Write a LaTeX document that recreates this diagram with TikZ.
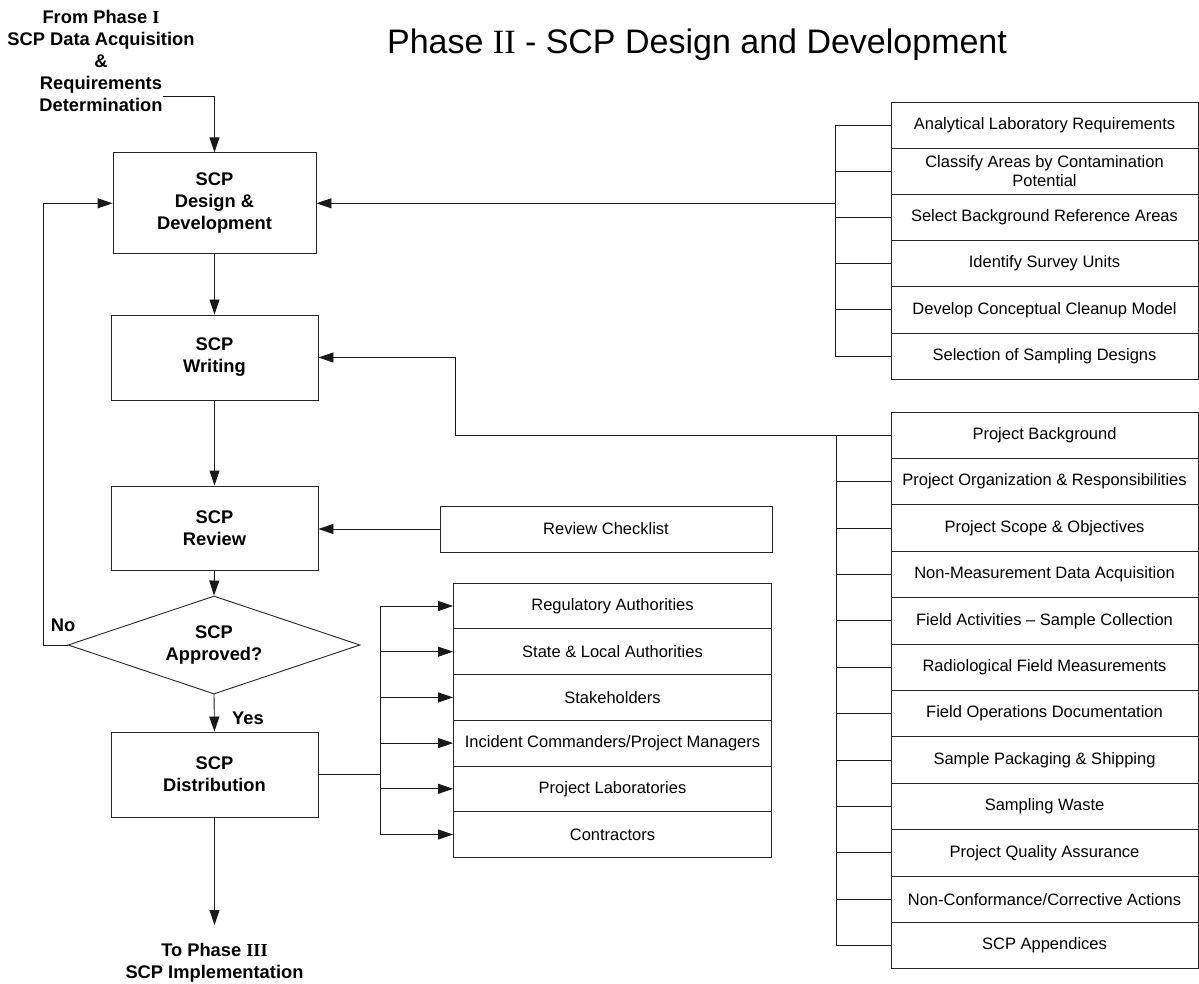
\documentclass[tikz,border=0pt]{standalone}
\usepackage{fontspec}
\setmainfont{Liberation Sans}
\newfontfamily\tnr{Liberation Serif}
\usetikzlibrary{arrows.meta,shapes.geometric}
\tikzset{
  conn/.style={line width=0.9pt, draw=black!90},
  arr/.style={conn, -{Triangle[length=15pt,width=10pt]}},
  mainbox/.style={draw=black!85, line width=0.9pt, inner sep=0pt, align=center,
    font=\bfseries\fontsize{18.3}{22}\selectfont},
  listbox/.style={draw=black!85, line width=0.9pt, inner sep=0pt, align=center,
    font=\fontsize{16.5}{19}\selectfont},
  boldtext/.style={inner sep=0pt, align=center, font=\bfseries\fontsize{18.3}{22}\selectfont},
}
\begin{document}
\begin{tikzpicture}[x=1pt,y=-1pt]
\useasboundingbox (0,0) rectangle (1199,984);
% title
\node[inner sep=0pt, font=\fontsize{34}{40}\selectfont] (title) at (697,45) {Phase {\tnr II} - SCP Design and Development};
% source / sink text
\node[boldtext] (src) at (101,61) {From Phase {\tnr\bfseries I}\\SCP Data Acquisition\\\&\\Requirements\\Determination};
\node[boldtext] (sink) at (214.5,963) {To Phase {\tnr\bfseries III}\\SCP Implementation};
% main boxes
\node[mainbox, minimum width=203pt, minimum height=101pt] (design) at (214.5,203.3) {SCP\\Design \&\\Development};
\node[mainbox, minimum width=207pt, minimum height=85pt] (writing) at (214.5,357.5) {SCP\\Writing};
\node[mainbox, minimum width=207pt, minimum height=84pt] (review) at (214.5,528) {SCP\\Review};
\node[mainbox, shape=diamond, aspect=2.98, minimum width=292pt, minimum height=98pt] (appr) at (214,645) {SCP\\Approved?};
\node[mainbox, minimum width=207pt, minimum height=85pt] (dist) at (214.5,774.5) {SCP\\Distribution};
\node[listbox, minimum width=332pt, minimum height=46pt] (chk) at (606,529) {Review Checklist};
% labels
\node[boldtext] (no) at (63,625) {No};
\node[boldtext] (yes) at (248,718) {Yes};
% top right list
\foreach \t [count=\i] in {Analytical Laboratory Requirements,{Classify Areas by Contamination\\Potential},Select Background Reference Areas,Identify Survey Units,Develop Conceptual Cleanup Model,Selection of Sampling Designs}{
  \node[listbox, minimum width=307pt, minimum height=46.2pt] (a\i) at (1044.5,{125.1+46.2*(\i-1)}) {\t};
}
% second right list
\foreach \t [count=\i] in {Project Background,Project Organization \& Responsibilities,Project Scope \& Objectives,Non-Measurement Data Acquisition,Field Activities -- Sample Collection,Radiological Field Measurements,Field Operations Documentation,Sample Packaging \& Shipping,Sampling Waste,Project Quality Assurance,Non-Conformance/Corrective Actions,SCP Appendices}{
  \node[listbox, minimum width=307pt, minimum height=46.4pt] (b\i) at (1044.5,{435.2+46.4*(\i-1)}) {\t};
}
% distribution list
\foreach \t [count=\i] in {Regulatory Authorities,State \& Local Authorities,Stakeholders,Incident Commanders/Project Managers,Project Laboratories,Contractors}{
  \node[listbox, minimum width=318pt, minimum height=45.7pt] (c\i) at (612.5,{606+45.7*(\i-1)}) {\t};
}
% coordinates
\coordinate (inA) at (163,96);
\coordinate (busA) at (835,203.3);
\coordinate (busB) at (836,435.2);
\coordinate (busC) at (380,774.5);
\coordinate (noL) at (43,645);
\coordinate (outE) at (214.5,925);
% main flow
\draw[arr] (inA) -| (design.north);
\draw[arr] (design.south) -- (writing.north);
\draw[arr] (writing.south) -- (review.north);
\draw[arr] (review.south) -- (appr.north);
\draw[arr] (appr.south) -- (dist.north);
\draw[arr] (dist.south) -- (outE);
\draw[arr] (appr.west) -- (noL) |- (design.west);
\draw[arr] (chk.west) -- (review.east |- chk.west);
% top right bus
\draw[conn] (a1.west) -| (835,0 |- a1.west) -- (835,0 |- a6.west) -- (a6.west);
\foreach \i in {2,3,4,5}{ \draw[conn] (835,0 |- a\i.west) -- (a\i.west); }
\draw[arr] (busA) -- (design.east);
% second bus
\draw[conn] (b1.west) -- (836,0 |- b1.west) -- (836,0 |- b12.west) -- (b12.west);
\foreach \i in {2,...,11}{ \draw[conn] (836,0 |- b\i.west) -- (b\i.west); }
\draw[arr] (busB) -- (455,435.2) -- (455,357.5) -- (writing.east);
% distribution bus
\draw[conn] (dist.east) -- (busC);
\draw[conn] (380,0 |- c1.west) -- (380,0 |- c6.west);
\foreach \i in {1,...,6}{ \draw[arr] (380,0 |- c\i.west) -- (c\i.west); }
\end{tikzpicture}
\end{document}
